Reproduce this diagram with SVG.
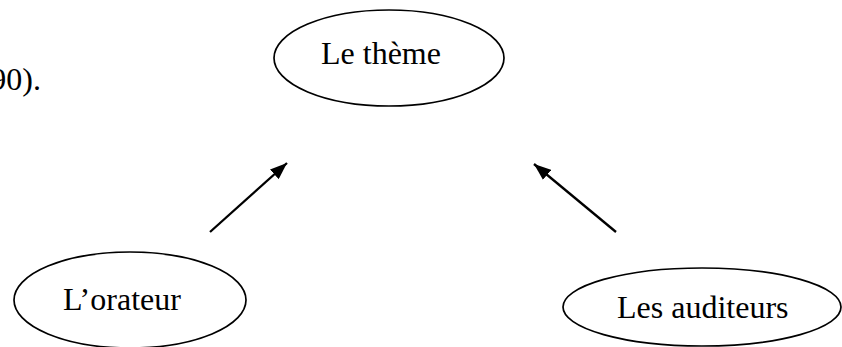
<svg xmlns="http://www.w3.org/2000/svg" width="842" height="347" viewBox="0 0 842 347">
<style>
.node ellipse{fill:#fff;stroke:#000;stroke-width:1.7}
text{font-family:"Liberation Serif","Times New Roman",serif;font-size:32px;fill:#000}
.conn line{stroke:#000;stroke-width:2.3}
</style>
<defs>
<marker id="ah" markerWidth="17" markerHeight="13" refX="17" refY="6.5" orient="auto" markerUnits="userSpaceOnUse" viewBox="0 0 17 13">
<path d="M0,0 L17,6.5 L0,13 Z" fill="#000"/>
</marker>
</defs>
<rect width="842" height="347" fill="#fff"/>
<text id="citation" x="41" y="90" text-anchor="end">90).</text>
<g id="theme" class="node">
<ellipse cx="389" cy="58" rx="115" ry="48"/>
<text x="321" y="64">Le thème</text>
</g>
<g id="orateur" class="node">
<ellipse cx="130" cy="300" rx="116" ry="48"/>
<text x="63" y="310">L’orateur</text>
</g>
<g id="auditeurs" class="node">
<ellipse cx="702" cy="307" rx="139" ry="39"/>
<text x="617" y="318">Les auditeurs</text>
</g>
<g id="connectors" class="conn">
<line x1="210" y1="232" x2="287" y2="163" marker-end="url(#ah)"/>
<line x1="616" y1="232" x2="534" y2="164" marker-end="url(#ah)"/>
</g>
</svg>
